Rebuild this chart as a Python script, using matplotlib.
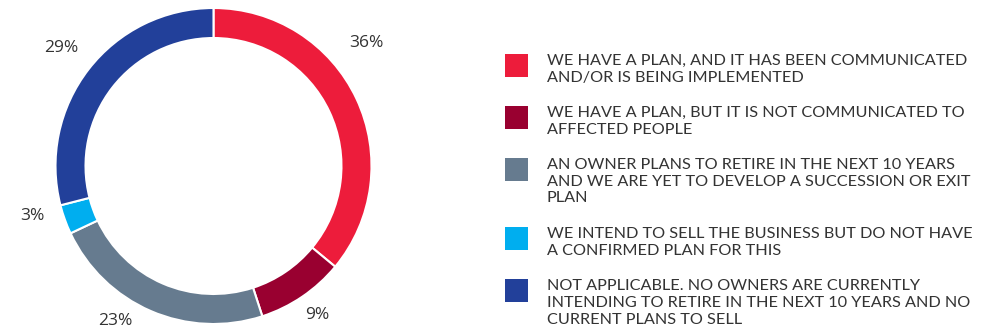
import matplotlib
matplotlib.use("Agg")
import matplotlib.pyplot as plt
from matplotlib.patches import Rectangle
from matplotlib.font_manager import FontProperties
import numpy as np

# Survey answers on succession / exit planning
categories = [
    "WE HAVE A PLAN, AND IT HAS BEEN COMMUNICATED\nAND/OR IS BEING IMPLEMENTED",
    "WE HAVE A PLAN, BUT IT IS NOT COMMUNICATED TO\nAFFECTED PEOPLE",
    "AN OWNER PLANS TO RETIRE IN THE NEXT 10 YEARS\nAND WE ARE YET TO DEVELOP A SUCCESSION OR EXIT\nPLAN",
    "WE INTEND TO SELL THE BUSINESS BUT DO NOT HAVE\nA CONFIRMED PLAN FOR THIS",
    "NOT APPLICABLE. NO OWNERS ARE CURRENTLY\nINTENDING TO RETIRE IN THE NEXT 10 YEARS AND NO\nCURRENT PLANS TO SELL",
]
shares = [36, 9, 23, 3, 29]
value_labels = ["36%", "9%", "23%", "3%", "29%"]
colors = ["#ED1C3B", "#990030", "#667B8F", "#00AEEF", "#22409A"]

# label placement tweaks (degrees along the ring, distance in radii)
label_angle_nudge = [13.7, 0.7, -9.0, -4.4, 0.1]
label_distance = [1.24, 1.15, 1.16, 1.19, 1.22]

TEXT = "#333333"
W, H = 993, 335
fig = plt.figure(figsize=(W / 100, H / 100), dpi=100)
ax = fig.add_axes([0, 0, 1, 1])

cx, cy, R = 213.5, H - 166, 158
wedges, _ = ax.pie(
    shares, colors=colors, startangle=90, counterclock=False,
    radius=R, center=(cx, cy),
    wedgeprops=dict(width=0.19 * R, edgecolor="white", linewidth=1.5),
)
ax.set_xlim(0, W)
ax.set_ylim(0, H)
ax.set_aspect("equal")
ax.axis("off")

for w, lab, dang, dist in zip(wedges, value_labels, label_angle_nudge, label_distance):
    ang = np.deg2rad((w.theta1 + w.theta2) / 2 + dang)
    ax.text(cx + dist * R * np.cos(ang), cy + dist * R * np.sin(ang), lab,
            ha="center", va="center", fontsize=12.5, color=TEXT,
            family=["Open Sans", "DejaVu Sans"])

# legend: fixed line pitch and gap between entries (pixels)
renderer = fig.canvas.get_renderer()
legend_font = FontProperties(family=["Lato", "DejaVu Sans"], size=11.7)
_, lp_h, _ = renderer.get_text_width_height_descent("lp", legend_font, ismath=False)
pitch, gap = 17.5, 17.0
sq = 23
x_sq, x_txt = 505, 547
top = 54.0
for cat, col in zip(categories, colors):
    ax.add_patch(Rectangle((x_sq, H - top - sq + 0.5), sq, sq, facecolor=col,
                           edgecolor="none"))
    ax.text(x_txt, H - top, cat, ha="left", va="top", fontproperties=legend_font,
            color=TEXT, linespacing=pitch / lp_h)
    top += cat.count("\n") * pitch + pitch + gap

fig.savefig("out.png", dpi=100)
